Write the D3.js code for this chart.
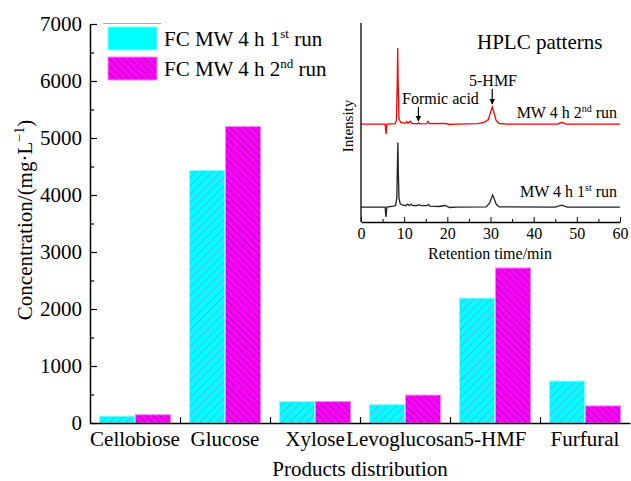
<!DOCTYPE html>
<html>
<head>
<meta charset="utf-8">
<script src="https://cdn.jsdelivr.net/npm/d3@7"></script>
<style>
  body { margin: 0; background: #fff; }
  svg { display: block; font-family: "Liberation Serif", "Times New Roman", serif; }
</style>
</head>
<body>
<svg id="chart" width="631" height="481"></svg>
<script>
// Product concentrations (mg/L) for two consecutive runs
const categories = ["Cellobiose", "Glucose", "Xylose", "Levoglucosan", "5-HMF", "Furfural"];
const run1 = [120, 4430, 375, 320, 2190, 735];
const run2 = [145, 5200, 375, 490, 2720, 300];
const seriesNames = ["run1", "run2"];
const yMajorTicks = [0, 1000, 2000, 3000, 4000, 5000, 6000, 7000];
const yMinorTicks = [500, 1500, 2500, 3500, 4500, 5500, 6500];

// HPLC chromatograms: [retention time (min), intensity (a.u.)]
const hplcRun2 = [
  [0, 49.2], [5.6, 49.2], [5.7, 46], [5.8, 44.2], [5.9, 47], [6.0, 49.2], [7.9, 49.4],
  [8.2, 51], [8.4, 70], [8.5, 87.4], [8.6, 70], [8.8, 52], [9.2, 50], [10.3, 49.6],
  [10.6, 50.5], [10.9, 49.6], [11.4, 50.6], [11.8, 49.6], [13.0, 49.3], [13.3, 49.8],
  [13.6, 49.3], [15.2, 49.4], [15.5, 50.6], [15.8, 49.4], [19.5, 49.6], [20.5, 49.0],
  [22, 49.2], [27, 49.4], [28.5, 50], [29.5, 51.5], [30.0, 55], [30.4, 57.8], [30.8, 55],
  [31.3, 51], [32, 49.5], [34, 49.2], [45.5, 49.2], [46.5, 50.1], [47.5, 49.2], [60, 49.2]
];
const hplcRun1 = [
  [0, 7.5], [5.6, 7.5], [5.7, 4], [5.8, 2.5], [5.9, 5], [6.0, 7.5], [7.5, 8], [8.0, 8.3],
  [8.3, 12], [8.45, 30], [8.55, 40], [8.65, 25], [8.8, 12], [9.1, 9], [9.6, 8.6],
  [10.4, 8.2], [10.8, 9.0], [11.2, 8.2], [11.6, 9.0], [12.0, 8.2], [13, 8.3], [13.4, 8.7],
  [14, 8.2], [15.2, 8.2], [15.6, 8.8], [16, 8.0], [18, 7.8], [19.5, 8.3], [20.5, 7.3],
  [22, 7.5], [29, 7.6], [29.8, 9.5], [30.3, 12.5], [30.5, 13.6], [30.8, 12], [31.3, 9],
  [32, 7.6], [45, 7.5], [46.5, 8.5], [47.8, 7.5], [60, 7.5]
];
const timeTicks = [0, 10, 20, 30, 40, 50, 60];
const timeMinorTicks = [5, 15, 25, 35, 45, 55];

const svg = d3.select("#chart");
const defs = svg.append("defs");

// Hatch fills
function hatch(id, bg, line, angle, gap, w) {
  const p = defs.append("pattern")
    .attr("id", id).attr("patternUnits", "userSpaceOnUse")
    .attr("width", gap).attr("height", gap)
    .attr("patternTransform", `rotate(${angle})`);
  p.append("rect").attr("width", gap).attr("height", gap).attr("fill", bg);
  p.append("line").attr("x1", 0).attr("y1", 0).attr("x2", 0).attr("y2", gap)
    .attr("stroke", line).attr("stroke-width", w);
}
hatch("hatchCyan", "#00ffff", "#9a6cf0", 45, 6, 1);
hatch("hatchMagenta", "#ff00ff", "#5a005a", -45, 5, 1);

const fills = { run1: "url(#hatchCyan)", run2: "url(#hatchMagenta)" };
const edges = { run1: "#80ffff", run2: "#ff80ff" };

// ---- main bar chart ----
const x0 = d3.scaleBand().domain(categories).range([90, 630]).paddingInner(0).paddingOuter(0);
const x1 = d3.scaleBand().domain(seriesNames).range([0, x0.bandwidth()]).paddingInner(0).paddingOuter(0.25);
const y = d3.scaleLinear().domain([0, 7000]).range([423, 24]);

const rows = categories.map((c, i) => ({ cat: c, run1: run1[i], run2: run2[i] }));

const groups = svg.append("g").selectAll("g").data(rows).join("g")
  .attr("transform", d => `translate(${x0(d.cat)},0)`);
groups.selectAll("rect")
  .data(d => seriesNames.map(k => ({ key: k, value: d[k] })))
  .join("rect")
  .attr("x", d => x1(d.key) + 0.5)
  .attr("width", x1.bandwidth() - 1)
  .attr("y", d => y(d.value))
  .attr("height", d => y(0) - y(d.value))
  .attr("fill", d => fills[d.key])
  .attr("stroke", d => edges[d.key])
  .attr("stroke-width", 1);

// y axis (ticks pointing inward)
const yAxis = svg.append("g").attr("transform", "translate(90,0)")
  .call(d3.axisLeft(y).tickValues(yMajorTicks).tickSizeInner(-7).tickSizeOuter(0).tickPadding(8).tickFormat(d3.format("d")));
svg.append("g").attr("transform", "translate(90,0)")
  .call(d3.axisLeft(y).tickValues(yMinorTicks).tickSizeInner(-4).tickSizeOuter(0).tickFormat(""))
  .select(".domain").remove();
yAxis.selectAll("text").attr("font-size", 21).attr("fill", "#000").style("font-family", "Liberation Serif");

// x axis: boundary ticks + category labels
const xEdge = d3.scaleLinear().domain([0, categories.length]).range([90, 630]);
svg.append("g").attr("transform", "translate(0,423)")
  .call(d3.axisBottom(xEdge).tickValues([1, 2, 3, 4, 5]).tickSizeInner(-6).tickSizeOuter(0).tickFormat(""));
const xLab = svg.append("g").attr("transform", "translate(0,423)")
  .call(d3.axisBottom(x0).tickSize(0).tickPadding(8));
xLab.select(".domain").remove();
xLab.selectAll("text").attr("font-size", 21).attr("fill", "#000").style("font-family", "Liberation Serif");

svg.selectAll(".domain").attr("stroke", "#000").attr("stroke-width", 1.5);
svg.selectAll(".tick line").attr("stroke", "#000").attr("stroke-width", 1.2);

svg.append("text").attr("x", 360).attr("y", 476).attr("text-anchor", "middle")
  .attr("font-size", 21).text("Products distribution");

const yTitle = svg.append("text")
  .attr("transform", "translate(32,220) rotate(-90)")
  .attr("text-anchor", "middle").attr("font-size", 21);
yTitle.append("tspan").text("Concentration/(mg\u00b7L");
yTitle.append("tspan").attr("dy", -8).attr("font-size", 14).text("\u22121");
yTitle.append("tspan").attr("dy", 8).text(")");

// legend
const legend = svg.append("g");
legend.append("line").attr("x1", 103).attr("x2", 161).attr("y1", 23.5).attr("y2", 23.5)
  .attr("stroke", "#aaa").attr("stroke-width", 1);
const legendItems = [
  { key: "run1", sup: "st", num: "1", fill: "#00ffff", y: 27 },
  { key: "run2", sup: "nd", num: "2", fill: fills.run2, y: 57 }
];
legendItems.forEach(it => {
  legend.append("rect").attr("x", 108).attr("y", it.y).attr("width", 49).attr("height", 23)
    .attr("fill", it.fill).attr("stroke", edges[it.key]).attr("stroke-width", 1);
  const t = legend.append("text").attr("x", 164).attr("y", it.y + 19).attr("font-size", 21);
  t.append("tspan").text(`FC MW 4 h ${it.num}`);
  t.append("tspan").attr("dy", -8).attr("font-size", 13).text(it.sup);
  t.append("tspan").attr("dy", 8).text(" run");
});

// ---- inset: HPLC patterns ----
const xt = d3.scaleLinear().domain([0, 60]).range([361, 620]);
const yi = d3.scaleLinear().domain([0, 100]).range([222, 23]);
const inset = svg.append("g");

const line = d3.line().x(d => xt(d[0])).y(d => yi(d[1]));
inset.append("path").datum(hplcRun2).attr("d", line)
  .attr("fill", "none").attr("stroke", "#ff0000").attr("stroke-width", 1.3);
inset.append("path").datum(hplcRun1).attr("d", line)
  .attr("fill", "none").attr("stroke", "#222").attr("stroke-width", 1.3);

const tAxis = inset.append("g").attr("transform", "translate(0,222)")
  .call(d3.axisBottom(xt).tickValues(timeTicks).tickSizeInner(-5).tickSizeOuter(0).tickPadding(6));
tAxis.selectAll("text").attr("font-size", 16).attr("fill", "#000").style("font-family", "Liberation Serif");
inset.append("g").attr("transform", "translate(0,222)")
  .call(d3.axisBottom(xt).tickValues(timeMinorTicks).tickSizeInner(-3).tickSizeOuter(0).tickFormat(""))
  .select(".domain").remove();
inset.append("line").attr("x1", 361).attr("x2", 361).attr("y1", 222).attr("y2", 23)
  .attr("stroke", "#000").attr("stroke-width", 1.3);
inset.selectAll(".domain").attr("stroke", "#000").attr("stroke-width", 1.3);
inset.selectAll(".tick line").attr("stroke", "#000").attr("stroke-width", 1);

inset.append("text").attr("x", 490).attr("y", 259).attr("text-anchor", "middle")
  .attr("font-size", 16).text("Retention time/min");
inset.append("text").attr("transform", "translate(353,126) rotate(-90)")
  .attr("text-anchor", "middle").attr("font-size", 15).text("Intensity");
inset.append("text").attr("x", 477).attr("y", 49).attr("font-size", 21).text("HPLC patterns");

// peak annotations
defs.append("marker").attr("id", "arrowHead").attr("viewBox", "0 0 10 10")
  .attr("refX", 9).attr("refY", 5).attr("markerWidth", 6).attr("markerHeight", 7)
  .attr("markerUnits", "userSpaceOnUse").attr("orient", "auto")
  .append("path").attr("d", "M0,0 L10,5 L0,10 Z").attr("fill", "#000");
const annotations = [
  { label: "Formic acid", t: 13.3, textX: 402, textY: 104, y1: 107, y2: 121 },
  { label: "5-HMF", t: 30.4, textX: 469, textY: 86, y1: 89, y2: 104 }
];
annotations.forEach(a => {
  inset.append("text").attr("x", a.textX).attr("y", a.textY).attr("font-size", 16).text(a.label);
  inset.append("line").attr("x1", xt(a.t)).attr("x2", xt(a.t)).attr("y1", a.y1).attr("y2", a.y2)
    .attr("stroke", "#000").attr("stroke-width", 1.2).attr("marker-end", "url(#arrowHead)");
});

const traceLabels = [
  { num: "2", sup: "nd", y: 118 },
  { num: "1", sup: "st", y: 197 }
];
traceLabels.forEach(l => {
  const t = inset.append("text").attr("x", 617).attr("y", l.y).attr("text-anchor", "end").attr("font-size", 16);
  t.append("tspan").text(`MW 4 h ${l.num}`);
  t.append("tspan").attr("dy", -6).attr("font-size", 10).text(l.sup);
  t.append("tspan").attr("dy", 6).text(" run");
});
</script>
</body>
</html>
